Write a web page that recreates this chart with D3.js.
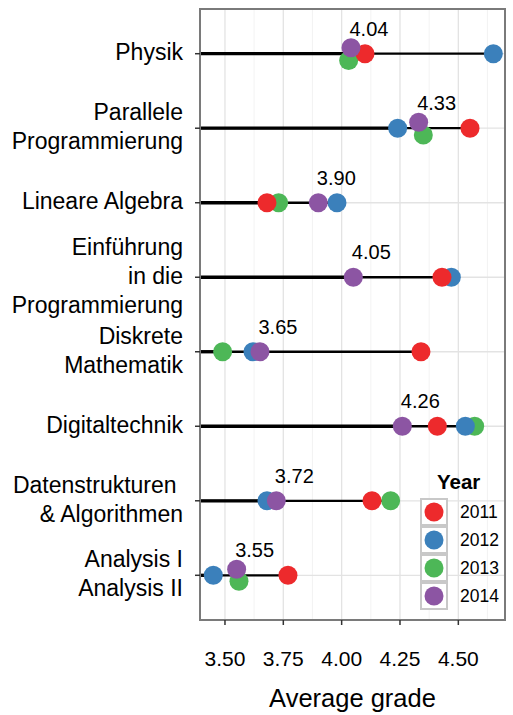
<!DOCTYPE html>
<html>
<head>
<meta charset="utf-8">
<script src="https://cdn.jsdelivr.net/npm/d3@7"></script>
<style>
  body { margin: 0; background: #fff; }
  text { font-family: "Liberation Sans", Helvetica, Arial, sans-serif; white-space: pre; }
</style>
</head>
<body>
<div id="chart"></div>
<script>
// categories, top to bottom
const courses = ["Physik", "Parallele\nProgrammierung", "Lineare Algebra", "Einführung\nin die\nProgrammierung",
  "Diskrete\nMathematik", "Digitaltechnik", "Datenstrukturen \n& Algorithmen", "Analysis I\nAnalysis II"];
const years = ["2011", "2012", "2013", "2014"];
// average grade per course, per year (null = no course that year)
const grade2011 = [4.10, 4.55, 3.68, 4.43, 4.34, 4.41, 4.13, 3.77];
const grade2012 = [4.65, 4.24, 3.98, 4.47, 3.62, 4.53, 3.68, 3.45];
const grade2013 = [4.03, 4.35, 3.73, null, 3.49, 4.57, 4.21, 3.56];
const grade2014 = [4.04, 4.33, 3.90, 4.05, 3.65, 4.26, 3.72, 3.55];
// vertical jitter (fraction of a row)
const jitter2013 = [0.09, 0.09, 0, 0, 0, 0, 0, 0.08];
const jitter2014 = [-0.08, -0.08, 0, 0, 0, 0, 0, -0.08];
const xTicks = [3.5, 3.75, 4.0, 4.25, 4.5];
const colors = ["#ED2A2C", "#3B80BB", "#4DB757", "#8C55A3"];
const drawOrder = ["2013", "2012", "2011", "2014"];

const W = 513, H = 715;
const margin = {top: 9, right: 8, bottom: 95, left: 200};

const svg = d3.select("#chart").append("svg")
  .attr("width", W).attr("height", H);

const x = d3.scaleLinear()
  .domain([3.393, 4.700])
  .range([margin.left, W - margin.right]);

const y = d3.scalePoint()
  .domain(courses)
  .range([margin.top, H - margin.bottom])
  .padding(0.6);

const color = d3.scaleOrdinal().domain(years).range(colors);

const gradeByYear = {"2011": grade2011, "2012": grade2012, "2013": grade2013, "2014": grade2014};
const jitterByYear = {"2013": jitter2013, "2014": jitter2014};

const points = [];
drawOrder.forEach(yr => {
  courses.forEach((c, i) => {
    const v = gradeByYear[yr][i];
    if (v == null) return;
    const j = jitterByYear[yr] ? jitterByYear[yr][i] : 0;
    points.push({course: c, year: yr, value: v, jit: j});
  });
});

const rows = courses.map((c, i) => {
  const vals = years.map(yr => gradeByYear[yr][i]).filter(v => v != null);
  return {course: c, min: d3.min(vals), max: d3.max(vals), label: grade2014[i]};
});

const pLeft = margin.left, pRight = W - margin.right;
const pTop = margin.top, pBottom = H - margin.bottom;

// grid
const minor = xTicks.map(t => t + 0.125).concat([3.375]).filter(t => x(t) > pLeft && x(t) < pRight);
svg.append("g").selectAll("line").data(minor).enter().append("line")
  .attr("x1", d => x(d)).attr("x2", d => x(d))
  .attr("y1", pTop).attr("y2", pBottom)
  .style("stroke", "#f0f0f0").style("stroke-width", 0.8);
svg.append("g").selectAll("line").data(xTicks).enter().append("line")
  .attr("x1", d => x(d)).attr("x2", d => x(d))
  .attr("y1", pTop).attr("y2", pBottom)
  .style("stroke", "#e3e3e3").style("stroke-width", 1.3);
svg.append("g").selectAll("line").data(courses).enter().append("line")
  .attr("x1", pLeft).attr("x2", pRight)
  .attr("y1", d => y(d)).attr("y2", d => y(d))
  .style("stroke", "#e3e3e3").style("stroke-width", 1.3);

// segments
svg.append("g").selectAll("line").data(rows).enter().append("line")
  .attr("x1", pLeft).attr("x2", d => x(d.max))
  .attr("y1", d => y(d.course)).attr("y2", d => y(d.course))
  .style("stroke", "black").style("stroke-width", 2.3);
svg.append("g").selectAll("line").data(rows).enter().append("line")
  .attr("x1", pLeft).attr("x2", d => x(d.min))
  .attr("y1", d => y(d.course)).attr("y2", d => y(d.course))
  .style("stroke", "black").style("stroke-width", 3.3);

// points
svg.append("g").selectAll("circle").data(points).enter().append("circle")
  .attr("cx", d => x(d.value))
  .attr("cy", d => y(d.course) + d.jit * y.step())
  .attr("r", 9.5)
  .attr("fill", d => color(d.year));

// value labels (2014)
svg.append("g").selectAll("text").data(rows).enter().append("text")
  .attr("x", d => x(d.label) + 18)
  .attr("y", d => y(d.course) - 18)
  .attr("text-anchor", "middle")
  .attr("font-size", "20px")
  .text(d => d3.format(".2f")(d.label));

// panel border
svg.append("rect")
  .attr("x", pLeft).attr("y", pTop)
  .attr("width", pRight - pLeft).attr("height", pBottom - pTop)
  .style("fill", "none").style("stroke", "#7a7a7a").style("stroke-width", 2);

// y axis
const yAxis = svg.append("g");
yAxis.selectAll("line").data(courses).enter().append("line")
  .attr("x1", pLeft - 5).attr("x2", pLeft)
  .attr("y1", d => y(d)).attr("y2", d => y(d))
  .style("stroke", "#333").style("stroke-width", 1.5);
courses.forEach(c => {
  const lines = c.split("\n");
  const lh = 29;
  const t = yAxis.append("text")
    .attr("text-anchor", "end")
    .attr("font-size", "23px");
  lines.forEach((ln, k) => {
    t.append("tspan")
      .attr("x", pLeft - 17)
      .attr("y", y(c) + (k - (lines.length - 1) / 2) * lh + 6.5)
      .text(ln);
  });
});

// x axis
const xAxis = svg.append("g");
xAxis.selectAll("line").data(xTicks).enter().append("line")
  .attr("x1", d => x(d)).attr("x2", d => x(d))
  .attr("y1", pBottom).attr("y2", pBottom + 5)
  .style("stroke", "#333").style("stroke-width", 1.5);
xAxis.selectAll("text").data(xTicks).enter().append("text")
  .attr("x", d => x(d)).attr("y", pBottom + 46)
  .attr("text-anchor", "middle")
  .attr("font-size", "21px")
  .text(d => d3.format(".2f")(d));
svg.append("text")
  .attr("x", (pLeft + pRight) / 2).attr("y", 707)
  .attr("text-anchor", "middle")
  .attr("font-size", "25.5px")
  .text("Average grade");

// legend
const lg = svg.append("g").attr("transform", "translate(420,498)");
lg.append("text")
  .attr("x", 17).attr("y", -9)
  .attr("font-size", "20.5px").attr("font-weight", "bold")
  .text("Year");
years.forEach((yr, i) => {
  lg.append("rect")
    .attr("x", 1).attr("y", i * 28 + 1)
    .attr("width", 26).attr("height", 26)
    .style("fill", "#fff").style("stroke", "#c8c8c8").style("stroke-width", 2);
  lg.append("circle")
    .attr("cx", 14).attr("cy", i * 28 + 14).attr("r", 9.5)
    .attr("fill", color(yr));
  lg.append("text")
    .attr("x", 40).attr("y", i * 28 + 20)
    .attr("font-size", "17.5px")
    .text(yr);
});
</script>
</body>
</html>
